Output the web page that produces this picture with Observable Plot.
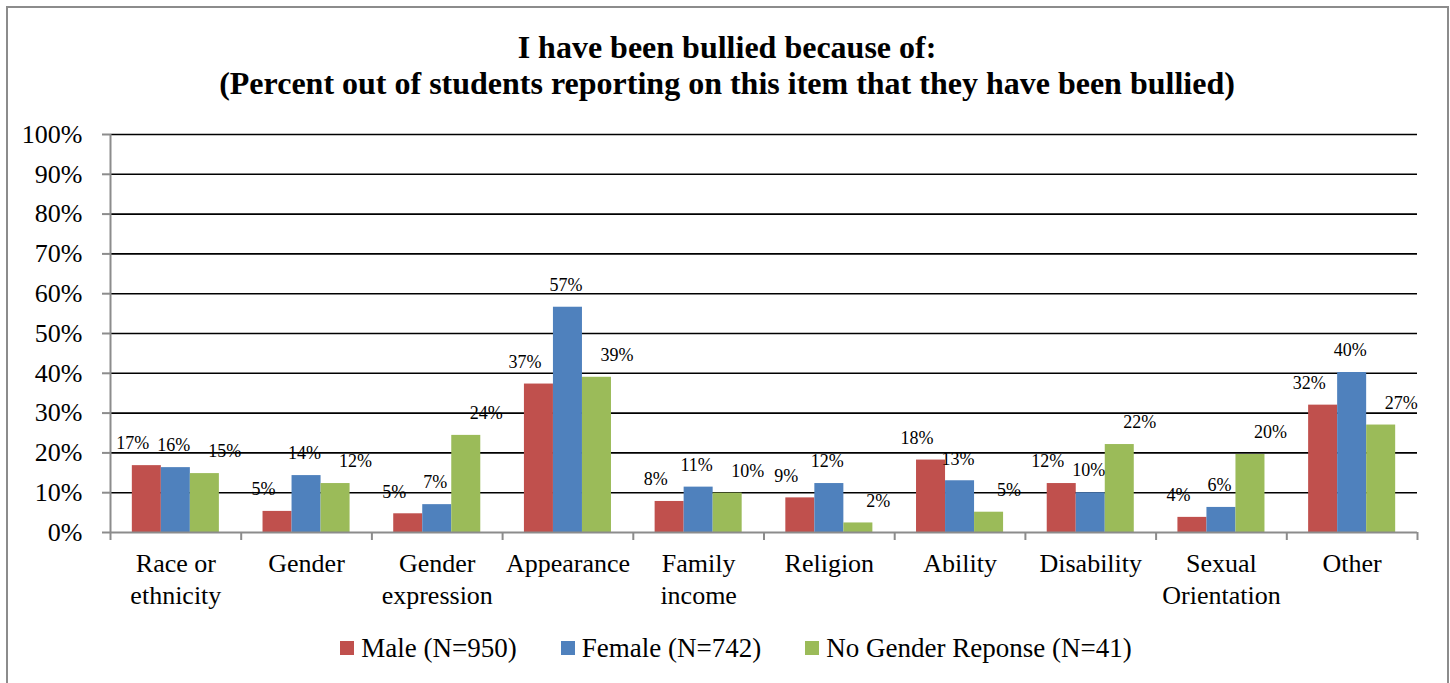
<!DOCTYPE html>
<html>
<head>
<meta charset="utf-8">
<script src="https://cdn.jsdelivr.net/npm/d3@7"></script>
<script src="https://cdn.jsdelivr.net/npm/@observablehq/plot@0.6"></script>
<style>
  html, body { margin: 0; padding: 0; background: #fff; }
  body { width: 1450px; height: 683px; position: relative; overflow: hidden; font-family: "Liberation Serif", "Times New Roman", Tinos, Times, "DejaVu Serif", serif; }
  #frame { position: absolute; left: 6px; top: 6px; width: 1439px; height: 700px; border: 2px solid #8c8c8c; }
  #title { position: absolute; left: 0; width: 1454px; top: 29px; text-align: center; font-weight: bold; font-size: 32px; line-height: 36px; color: #000; }
  #chart { position: absolute; left: 0; top: 110px; }
  #legend { position: absolute; left: 0; width: 1472px; top: 632px; display: flex; justify-content: center; gap: 44px; font-size: 27px; line-height: 32px; color: #000; }
  .item { display: flex; align-items: center; gap: 7px; }
  .sw { width: 14px; height: 14px; display: inline-block; }
</style>
</head>
<body>
<div id="frame"></div>
<div id="title">I have been bullied because of:<br>(Percent out of students reporting on this item that they have been bullied)</div>
<div id="chart"></div>
<div id="legend"></div>
<script>
const categories = ["Race or ethnicity", "Gender", "Gender expression", "Appearance", "Family income", "Religion", "Ability", "Disability", "Sexual Orientation", "Other"];
const tickLabels = ["Race or\nethnicity", "Gender", "Gender\nexpression", "Appearance", "Family\nincome", "Religion", "Ability", "Disability", "Sexual\nOrientation", "Other"];
const seriesNames = ["Male (N=950)", "Female (N=742)", "No Gender Reponse (N=41)"];
const seriesColors = ["#C0504D", "#4F81BD", "#9BBB59"];
const male   = [16.8, 5.3, 4.7, 37.3, 7.8, 8.7, 18.2, 12.3, 3.8, 32.0];
const female = [16.3, 14.3, 7.0, 56.6, 11.4, 12.3, 13.0, 10.0, 6.3, 40.2];
const noResp = [14.8, 12.3, 24.4, 39.0, 9.9, 2.4, 5.1, 22.1, 19.6, 27.0];
const yTicks = [0, 10, 20, 30, 40, 50, 60, 70, 80, 90, 100];

const seriesValues = [male, female, noResp];
const rows = [];
categories.forEach((c, ci) => {
  seriesValues.forEach((vals, si) => {
    rows.push({category: c, ci, series: seriesNames[si], si, value: vals[ci]});
  });
});

const fontStack = "'Liberation Serif', 'Times New Roman', Tinos, Times, 'DejaVu Serif', serif";
const bw = 0.222; // bar width as a fraction of a category band
const barX1 = d => d.ci + 0.5 + (d.si - 1.5) * bw;
const barX2 = d => barX1(d) + bw;
const barXc = d => barX1(d) + bw / 2;
const labelShift = [-14, -2, 20];

const chart = Plot.plot({
  width: 1450,
  height: 510,
  marginLeft: 110,
  marginRight: 33,
  marginTop: 24,
  marginBottom: 88,
  style: {fontFamily: fontStack, color: "#000", background: "transparent"},
  x: {domain: [0, categories.length], label: null},
  y: {domain: [0, 100], label: null},
  color: {domain: seriesNames, range: seriesColors},
  marks: [
    Plot.ruleY(yTicks.filter(t => t > 0), {stroke: "#000", strokeWidth: 1.6}),
    Plot.rectY(rows, {x1: barX1, x2: barX2, y1: 0, y2: "value", fill: "series"}),
    Plot.ruleY([0], {stroke: "#8c8c8c", strokeWidth: 2}),
    Plot.ruleX([0], {stroke: "#8c8c8c", strokeWidth: 2}),
    Plot.axisY(yTicks, {label: null, tickSize: 8, tickPadding: 20, stroke: "#8c8c8c", strokeWidth: 2, fill: "#000", fontSize: 26, tickFormat: d => d + "%"}),
    Plot.axisX(d3.range(categories.length + 1), {label: null, tickSize: 8, stroke: "#8c8c8c", strokeWidth: 2, tickFormat: () => ""}),
    Plot.axisX(d3.range(categories.length).map(i => i + 0.5), {label: null, tickSize: 0, tickPadding: 17, fill: "#000", fontSize: 26, lineHeight: 1.23, lineAnchor: "top", tickFormat: v => tickLabels[Math.floor(v)]}),
    ...[0, 1, 2].map(si => Plot.text(rows.filter(d => d.si === si), {x: barXc, y: "value", text: d => Math.round(d.value) + "%", dy: -22, dx: labelShift[si], fontSize: 18, fill: "#000"}))
  ]
});
document.getElementById("chart").appendChild(chart);

const legend = document.getElementById("legend");
seriesNames.forEach((name, i) => {
  const item = document.createElement("div");
  item.className = "item";
  const sw = document.createElement("span");
  sw.className = "sw";
  sw.style.background = seriesColors[i];
  const label = document.createElement("span");
  label.textContent = name;
  item.appendChild(sw);
  item.appendChild(label);
  legend.appendChild(item);
});
</script>
</body>
</html>
